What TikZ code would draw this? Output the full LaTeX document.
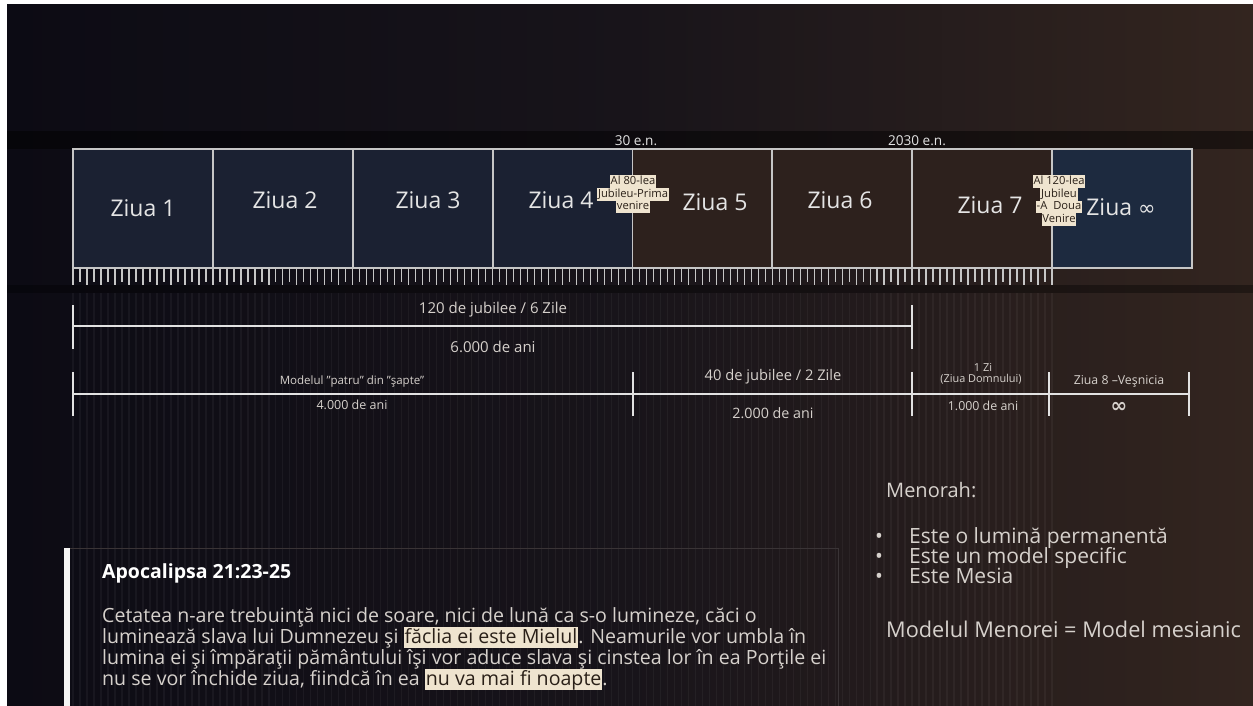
\documentclass[tikz,border=0pt]{standalone}
\usepackage{fontspec}
\setmainfont{Open Sans}
\newfontfamily\symf{DejaVu Sans}
\usetikzlibrary{calc}
\definecolor{bgL}{HTML}{0C0B14}
\definecolor{bgM}{HTML}{18141A}
\definecolor{bgR}{HTML}{33251F}
\definecolor{navy}{HTML}{1B2132}
\definecolor{navyB}{HTML}{1D2A3F}
\definecolor{brownc}{HTML}{2D211D}
\definecolor{frame}{HTML}{C6C6C6}
\definecolor{txt}{HTML}{E4E4E4}
\definecolor{soft}{HTML}{D6D1CC}
\definecolor{hlbg}{HTML}{EFE4CF}
\definecolor{hltxt}{HTML}{2A2018}
\definecolor{boxline}{HTML}{3A3436}
\definecolor{barc}{HTML}{E2E2E2}
\newcommand\hlp[1]{{\setlength{\fboxsep}{0pt}\colorbox{hlbg}{\kern1pt\color{hltxt}\rule[-5pt]{0pt}{21pt}#1\kern1pt}}}
\newcommand\hlj[1]{{\setlength{\fboxsep}{0pt}\colorbox{hlbg}{\kern0.8pt\color{hltxt}\rule[-3.4pt]{0pt}{12.7pt}#1\kern0.8pt}}}
\tikzset{
  cell/.style={draw=frame, line width=1.8pt, anchor=north west, minimum width=139.875pt, minimum height=119pt, inner sep=0pt, outer sep=0pt},
  zlab/.style={text=txt, font=\fontsize{23}{27}\selectfont, inner sep=0pt},
  toplab/.style={text=txt, font=\fontsize{13.6}{16}\selectfont, inner sep=0pt},
  jub/.style={align=center, font=\fontsize{11.2}{12.7}\selectfont, inner sep=0pt},
  barlab/.style={text=soft, inner sep=0pt},
  bar/.style={draw=barc, line width=2.6pt},
  tick/.style={draw=frame, line width=1.4pt},
  para/.style={text=soft, anchor=base west, inner sep=0pt, font=\fontsize{19.6}{23}\selectfont},
  rtext/.style={text=soft, anchor=base west, inner sep=0pt, font=\fontsize{21}{25}\selectfont},
  bul/.style={text=soft, anchor=base, inner sep=0pt, font=\fontsize{21}{25}\selectfont},
}
\begin{document}
\begin{tikzpicture}[x=1pt,y=1pt]
\useasboundingbox (0,0) rectangle (1253,-706);
\fill[white] (0,0) rectangle (1253,-706);
% background
\shade[left color=bgL, right color=bgR, middle color=bgM] (7,-5) rectangle (1253,-706);
\fill[black, opacity=0.45] (7,-131) rectangle (1253,-149);
\fill[black, opacity=0.35] (7,-285) rectangle (1253,-293);
\foreach \i in {0,...,140} {
  \pgfmathsetmacro\sx{73+\i*6.9929}
  \draw[white, opacity=0.045, line width=1.4pt] (\sx,-293) -- (\sx,-706);
}
% cells
\foreach \i/\c in {1/navy,2/navy,3/navy,4/navy,5/brownc,6/brownc,7/brownc,8/navyB} {
  \node[cell, fill=\c] (c\i) at ({73+139.875*(\i-1)},-149) {};
}
% ticks
\foreach \i in {0,...,140} {
  \pgfmathsetmacro\tx{73+\i*6.9929}
  \pgfmathsetmacro\tl{mod(\i,2)==0 ? 285 : 282}
  \draw[tick] (\tx,-269) -- (\tx,-\tl);
}
% day labels
\node[zlab] (z1) at (143,-208) {Ziua 1};
\node[zlab] (z2) at (285,-200) {Ziua 2};
\node[zlab] (z3) at (428,-200) {Ziua 3};
\node[zlab] (z4) at (561,-200) {Ziua 4};
\node[zlab] (z5) at (715,-202) {Ziua 5};
\node[zlab] (z6) at (840,-200) {Ziua 6};
\node[zlab] (z7) at (990,-205) {Ziua 7};
\node[zlab] (z8) at (1121,-207) {Ziua {\symf\fontsize{21}{24}\selectfont ∞}};
% top labels
\node[toplab] (t30) at (636,-141) {30 e.n.};
\node[toplab] (t2030) at (917,-141) {2030 e.n.};
% jubilee callouts
\node[jub, anchor=north] (j80) at (633,-175) {\hlj{Al 80-lea}\\\hlj{Jubileu-Prima}\\\hlj{venire}};
\node[jub, anchor=north] (j120) at (1059,-175) {\hlj{Al 120-lea}\\\hlj{Jubileu}\\\hlj{-A\ \ Doua}\\\hlj{Venire}};
% row 1
\coordinate (a1) at (73,-326);
\coordinate (b1) at (912,-326);
\draw[bar] (a1) -- (b1);
\foreach \p in {a1,b1} { \draw[bar] ($(\p)+(0,21)$) -- ($(\p)+(0,-23)$); }
\node[barlab, font=\fontsize{15}{17}\selectfont] (l120) at (493,-310) {120 de jubilee / 6 Zile};
\node[barlab, font=\fontsize{15}{17}\selectfont] (l6000) at (493,-347) {6.000 de ani};
% row 2
\coordinate (d0) at (73,-394);
\coordinate (d1) at (633,-394);
\coordinate (d2) at (912,-394);
\coordinate (d3) at (1049,-394);
\coordinate (d4) at (1189,-394);
\draw[bar] (d0) -- (d4);
\foreach \p in {d0,d1,d2,d3,d4} { \draw[bar] ($(\p)+(0,22)$) -- ($(\p)+(0,-22)$); }
\node[barlab, font=\fontsize{11.5}{13}\selectfont] (lmod) at (352,-382) {Modelul "patru" din "şapte"};
\node[barlab, font=\fontsize{12.5}{14}\selectfont] (l4000) at (352,-405) {4.000 de ani};
\node[barlab, font=\fontsize{14.7}{17}\selectfont] (l40) at (773,-377) {40 de jubilee / 2 Zile};
\node[barlab, font=\fontsize{14.3}{17}\selectfont] (l2000) at (773,-413) {2.000 de ani};
\node[barlab, font=\fontsize{11}{13}\selectfont] (l1zi) at (983,-367) {1 Zi};
\node[barlab, font=\fontsize{10.9}{12}\selectfont] (ldom) at (981,-379) {(Ziua Domnului)};
\node[barlab, font=\fontsize{12.4}{14}\selectfont] (l1000) at (983,-406) {1.000 de ani};
\node[barlab, font=\fontsize{12.3}{14}\selectfont] (lz8) at (1119,-381) {Ziua 8 –Veşnicia};
\node[barlab, font=\symf\bfseries\fontsize{20}{22}\selectfont] (linf) at (1119,-407) {∞};
% quote block
\fill[white!92!gray] (64,-548) rectangle (70,-706);
\draw[boxline, line width=1pt] (70,-548) -- (838,-548) -- (838,-706);
\node[text=white, anchor=base west, inner sep=0pt, font=\bfseries\fontsize{19.5}{23}\selectfont] (apo) at (102,-578) {Apocalipsa 21:23-25};
\node[para] (p1) at (102,-622) {Cetatea n-are trebuinţă nici de soare, nici de lună ca s-o lumineze, căci o};
\node[para] (p2) at (102,-643) {luminează slava lui Dumnezeu şi \hlp{făclia ei este Mielul}. Neamurile vor umbla în};
\node[para] (p3) at (102,-664) {lumina ei şi împăraţii pământului îşi vor aduce slava şi cinstea lor în ea Porţile ei};
\node[para] (p4) at (102,-685) {nu se vor închide ziua, fiindcă în ea \hlp{nu va mai fi noapte}.};
% right text
\node[rtext, font=\fontsize{20}{24}\selectfont] (men) at (886,-497) {Menorah:};
\node[bul] (bu1) at (879,-543) {•};
\node[bul] (bu2) at (879,-563) {•};
\node[bul] (bu3) at (879,-583) {•};
\node[rtext] (m1) at (909,-543) {Este o lumină permanentă};
\node[rtext] (m2) at (909,-563) {Este un model specific};
\node[rtext] (m3) at (909,-583) {Este Mesia};
\node[rtext, font=\fontsize{21.7}{26}\selectfont] (m4) at (886,-637) {Modelul Menorei = Model mesianic};
\end{tikzpicture}
\end{document}
